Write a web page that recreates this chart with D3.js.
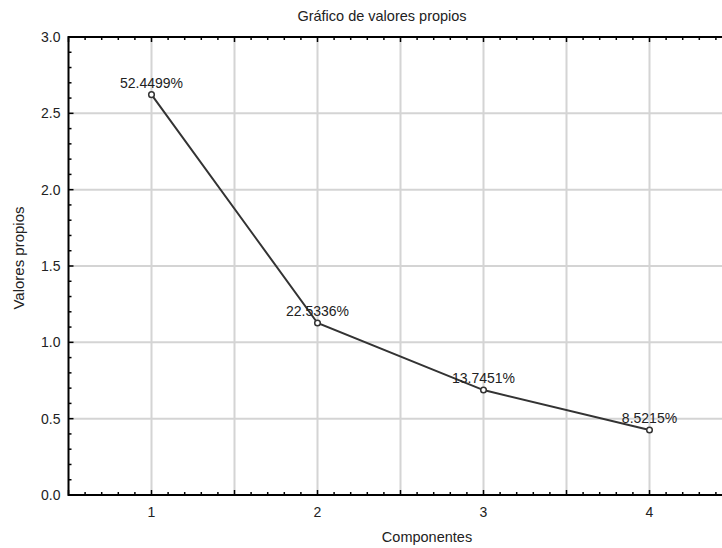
<!DOCTYPE html>
<html>
<head>
<meta charset="utf-8">
<script src="https://cdn.jsdelivr.net/npm/d3@7"></script>
<style>
  body { margin: 0; background: #fff; }
  svg { display: block; font-family: "Liberation Sans", Arial, sans-serif; }
</style>
</head>
<body>
<div id="chart"></div>
<script>
// data
const components = [1, 2, 3, 4]
const eigenvalues = [2.6225, 1.1267, 0.6873, 0.4261]
const pctLabels = ['52.4499%', '22.5336%', '13.7451%', '8.5215%']
const yTicks = [0, 0.5, 1, 1.5, 2, 2.5, 3]

const width = 722, height = 548
const margin = { top: 37, left: 68.5, bottom: 53 }

const svg = d3.select('#chart').append('svg')
  .attr('width', width)
  .attr('height', height)

// plot runs off the right of the window in the original
const x = d3.scaleLinear().domain([0.5, 4.5]).range([margin.left, margin.left + 4 * 166])
const y = d3.scaleLinear().domain([0, 3]).range([height - margin.bottom, margin.top])

const xMajor = d3.range(0.5, 4.51, 0.5)
const xMinor = d3.range(0.5, 4.51, 0.1)
const yMinor = d3.range(0, 3.01, 0.1)

// grid
svg.append('g').selectAll('line.vg')
  .data(xMajor.slice(1))
  .enter().append('line')
  .attr('x1', d => x(d)).attr('x2', d => x(d))
  .attr('y1', y(3)).attr('y2', y(0))
  .style('stroke', '#d4d4d4').style('stroke-width', 2)

svg.append('g').selectAll('line.hg')
  .data(yTicks.slice(1, -1))
  .enter().append('line')
  .attr('x1', x(0.5)).attr('x2', width)
  .attr('y1', d => y(d)).attr('y2', d => y(d))
  .style('stroke', '#d4d4d4').style('stroke-width', 2)

// frame
const frame = svg.append('g').style('stroke', '#000').style('stroke-width', 2)
frame.append('line').attr('x1', x(0.5)).attr('x2', width).attr('y1', y(0)).attr('y2', y(0))
frame.append('line').attr('x1', x(0.5)).attr('x2', width).attr('y1', y(3)).attr('y2', y(3))
frame.append('line').attr('x1', x(0.5)).attr('x2', x(0.5)).attr('y1', y(3) - 1).attr('y2', y(0) + 1)

// inward ticks
const isMajor = (v, step) => Math.abs(v / step - Math.round(v / step)) < 1e-6
const ticks = svg.append('g').style('stroke', '#000').style('stroke-width', 1.5)
ticks.selectAll('line.bt').data(xMinor).enter().append('line')
  .attr('x1', d => x(d)).attr('x2', d => x(d))
  .attr('y1', y(0)).attr('y2', d => y(0) - (isMajor(d, 0.5) ? 5 : 3))
ticks.selectAll('line.tt').data(xMinor).enter().append('line')
  .attr('x1', d => x(d)).attr('x2', d => x(d))
  .attr('y1', y(3)).attr('y2', d => y(3) + (isMajor(d, 0.5) ? 5 : 3))
ticks.selectAll('line.lt').data(yMinor).enter().append('line')
  .attr('x1', x(0.5)).attr('x2', d => x(0.5) + (isMajor(d, 0.5) ? 5 : 3))
  .attr('y1', d => y(d)).attr('y2', d => y(d))

// tick labels
svg.append('g').selectAll('text')
  .data(yTicks).enter().append('text')
  .attr('x', x(0.5) - 8)
  .attr('y', d => y(d) + 5)
  .attr('text-anchor', 'end')
  .style('font-size', '14px')
  .style('fill', '#222')
  .text(d => d.toFixed(1))

svg.append('g').selectAll('text')
  .data(components).enter().append('text')
  .attr('x', d => x(d))
  .attr('y', y(0) + 22)
  .attr('text-anchor', 'middle')
  .style('font-size', '14px')
  .style('fill', '#222')
  .text(d => d)

// titles
svg.append('text').attr('x', 382).attr('y', 21)
  .attr('text-anchor', 'middle').style('font-size', '14.5px').style('fill', '#222')
  .text('Gráfico de valores propios')
svg.append('text').attr('x', 427).attr('y', 542)
  .attr('text-anchor', 'middle').style('font-size', '14.5px').style('fill', '#222')
  .text('Componentes')
svg.append('text')
  .attr('transform', 'translate(24,258) rotate(-90)')
  .attr('text-anchor', 'middle').style('font-size', '15px').style('fill', '#222')
  .text('Valores propios')

// scree line
const pts = components.map((c, i) => ({ c, v: eigenvalues[i], label: pctLabels[i] }))

svg.append('path')
  .datum(pts)
  .attr('d', d3.line().x(d => x(d.c)).y(d => y(d.v)))
  .style('fill', 'none').style('stroke', '#333').style('stroke-width', 2)

svg.append('g').selectAll('circle')
  .data(pts).enter().append('circle')
  .attr('cx', d => x(d.c)).attr('cy', d => y(d.v)).attr('r', 2.8)
  .style('fill', '#fff').style('stroke', '#333').style('stroke-width', 1.5)

svg.append('g').selectAll('text')
  .data(pts).enter().append('text')
  .attr('x', d => x(d.c))
  .attr('y', d => y(d.v) - 7)
  .attr('text-anchor', 'middle')
  .style('font-size', '14px')
  .style('fill', '#222')
  .text(d => d.label)
</script>
</body>
</html>
